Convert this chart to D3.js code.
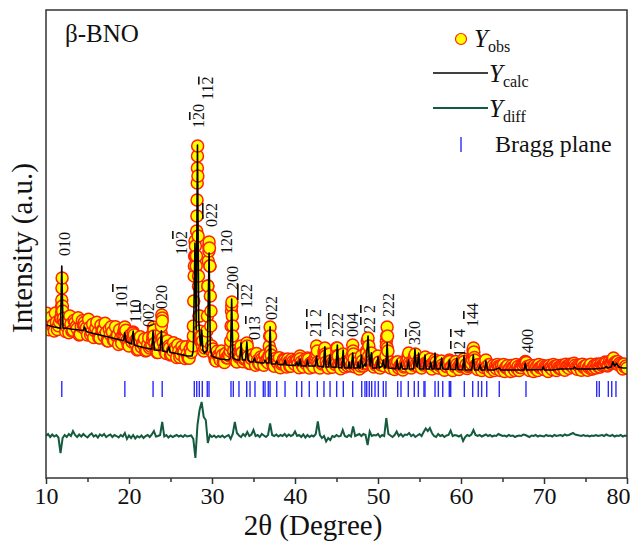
<!DOCTYPE html>
<html>
<head>
<meta charset="utf-8">
<script src="https://cdn.jsdelivr.net/npm/d3@7"></script>
<style>
  body { margin: 0; background: #fff; }
  text { font-family: "Liberation Serif", "Times New Roman", serif; fill: #111; }
</style>
</head>
<body>
<div id="chart"></div>
<script>
// observed / difference patterns are on a fixed 2theta step scan
var gridStart = 10, gridStep = 0.25;
var grid2Start = 10.125;

// Y_obs on the step grid (one row per degree)
var yObsGrid = [
  1150, 1075, 1160, 1105,  1050, 1137, 1103, 1180,  1250, 1136, 1094, 1032,
  1120, 1058, 1135, 1073,  1010, 1095, 1110, 1065,  1010, 1085, 1040, 985,
  1080, 1035, 980, 1055,   1000, 1035, 950, 1015,   1040, 955, 1000, 915,
  980, 1005, 1080, 953,    900, 963, 1040, 928,     860, 945, 890, 915,
  850, 915, 880, 915,      1060, 877, 834, 911,     1180, 876, 824, 892,
  810, 855, 880, 785,      850, 815, 850, 775,      820, 778, 836, 1000,
  1800, 2800, 1200, 950,   850, 900, 1500, 1700,    850, 805, 750, 805,
  760, 808, 735, 783,      810, 900, 1100, 790,     740, 788, 880, 743,
  780, 900, 725, 773,      780, 708, 755, 723,      770, 708, 755, 733,
  1000, 739, 698, 756,     725, 683, 731, 760,      690, 739, 698, 746,
  715, 754, 683, 741,      690, 730, 750, 680,      720, 690, 760, 740,
  680, 720, 850, 740,      680, 750, 688, 726,      880, 714, 673, 761,
  690, 710, 730, 700,      850, 690, 720, 670,      740, 700, 730, 950,
  740, 750, 690, 710,      750, 680, 720, 700,      950, 720, 680, 710,
  665, 713, 680, 710,      660, 700, 720, 730,      680, 710, 750, 700,
  730, 680, 710, 730,      720, 710, 670, 710,      740, 680, 700, 710,
  657, 696, 715, 685,      655, 695, 715, 665,      695, 725, 685, 675,
  705, 725, 800, 705,      665, 695, 655, 685,      725, 665, 645, 685,
  655, 675, 695, 655,      675, 645, 685, 665,      645, 685, 655, 675,
  655, 685, 705, 745,      695, 655, 685, 645,      675, 655, 685, 695,
  665, 685, 645, 685,      665, 695, 655, 685,      678, 698, 658, 698,
  678, 708, 688, 708,      668, 698, 658, 688,      678, 658, 698, 668,
  698, 680, 710, 690,      705, 718, 730, 710,      725, 760, 730, 740,
  710, 715, 670, 690,      680
];

// Y_obs on the interleaved half-step points (x.125, x.375, x.625, x.875)
var yObsGrid2 = [
  1228, 1063, 1188, 1113,  1229, 1065, 1141, 1300,  1177, 1045, 1153, 1201,
  1049, 1156, 1094, 1182,  1018, 1153, 1138, 1083,  1168, 1013, 1118, 1053,
  1138, 983, 1108, 1053,   1128, 953, 1068, 1093,   958, 1093, 1008, 1063,
  928, 1043, 1058, 917,    1007, 939, 1012, 964,    868, 993, 928, 973,
  858, 983, 898, 992,      928, 835, 952, 1029,     937, 835, 953, 881,
  818, 933, 868, 913,      788, 893, 838, 893,      779, 867, 920, 1700,
  1800, 1600, 1000, 950,   880, 1050, 1850, 1250,   870, 763, 848, 793,
  849, 746, 824, 781,      800, 1300, 850, 750,     829, 787, 834, 771,
  839, 796, 725, 812,      779, 826, 724, 791,      749, 806, 754, 791,
  809, 707, 776, 734,      782, 720, 768, 737,      769, 698, 767, 726,
  765, 724, 773, 711,      760, 720, 770, 730,      740, 770, 820, 720,
  750, 730, 820, 710,      760, 710, 748, 716,      805, 704, 733, 721,
  740, 700, 750, 720,      770, 710, 740, 700,      750, 720, 830, 800,
  770, 730, 740, 720,      740, 710, 750, 770,      880, 720, 740, 700,
  734, 742, 700, 730,      690, 740, 770, 710,      740, 770, 720, 750,
  710, 740, 760, 720,      750, 710, 730, 760,      700, 720, 750, 690,
  706, 735, 745, 695,      725, 745, 685, 715,      705, 745, 715, 695,
  735, 765, 785, 705,      715, 685, 725, 705,      695, 715, 685, 705,
  695, 715, 685, 705,      715, 685, 705, 675,      705, 685, 715, 695,
  685, 715, 725, 735,      685, 705, 675, 705,      695, 715, 685, 705,
  695, 675, 705, 685,      715, 685, 705, 675,      708, 688, 718, 698,
  718, 698, 728, 688,      708, 688, 718, 698,      708, 688, 718, 678,
  708, 720, 690, 722,      716, 739, 700, 742,      740, 780, 740, 745,
  728, 703, 720, 700
];

// extra Y_obs points on the steep peak flanks [2theta, intensity]
var yObsPeaks = [
  [11.8,1180],[11.88,1240],[11.9,1360],[11.92,1480],[11.94,1580],[11.98,1300],[12.05,1170],
  [14.65,1100],
  [19.4,1000],[19.45,1060],[19.5,1090],[19.55,1040],[19.6,980],
  [20.45,980],[20.5,1030],[20.55,990],
  [22.85,960],[22.9,1040],[22.95,1090],[23.0,1000],
  [23.85,1000],[23.9,1100],[23.95,1210],[24.0,1150],[24.05,980],
  [24.8,900],
  [27.7,900],[27.75,1100],[27.8,1350],[27.85,1600],[27.9,1800],[27.95,1950],[28.0,1900],
  [28.1,1700],[28.15,2050],[28.18,2200],[28.2,2360],[28.22,2530],[28.24,2680],[28.27,2900],
  [28.3,2600],[28.33,2000],[28.37,1500],[28.42,1200],[28.5,1050],[28.6,950],[28.75,1000],[28.85,900],
  [29.35,950],[29.45,1200],[29.5,1500],[29.55,1750],[29.6,1900],[29.65,1940],[29.7,1880],
  [29.75,1700],[29.8,1400],[29.85,1100],[29.95,900],
  [32.2,850],[32.25,950],[32.3,1100],[32.35,1250],[32.4,1340],[32.45,1200],[32.5,1000],[32.6,850],
  [33.45,850],[33.5,900],[34.15,880],[34.2,930],
  [36.85,800],[36.9,900],[36.95,1000],[37.0,1090],[37.05,1000],[37.1,850],
  [40.6,800],[41.5,780],
  [42.5,800],[42.6,900],[42.7,850],[43.5,820],[43.6,880],[43.7,800],
  [44.2,820],[45.0,820],[45.1,880],[45.2,800],[45.8,820],
  [46.85,800],[46.95,910],[47.05,820],
  [48.0,800],[48.6,850],[48.7,950],[48.8,980],[48.9,900],[49.2,830],[50.0,800],
  [50.95,800],[51.0,900],[51.05,1000],[51.1,1090],[51.15,1000],[51.2,850],
  [53.6,800],[53.7,830],[54.4,800],[54.5,820],[55.7,790],[56.3,770],[56.87,750],[58.6,760],
  [60.35,770],[61.35,780],[61.45,860],[61.5,880],[61.55,840],[61.65,760],[63.0,760],
  [67.7,720],[67.8,740],[78.3,760]
];

// Y_calc profile [2theta, intensity]
var yCalc = [
  [10,1110],[11,1090],[11.6,1080],[11.75,1075],[11.9,1700],[12.05,1078],[12.3,1080],[13,1070],
  [14,1060],[14.5,1058],[14.65,1090],[14.8,1052],[15,1040],[16,1020],[17,1000],[18,980],[19,960],
  [19.35,955],[19.5,1033],[19.65,945],[20.3,920],[20.5,1050],[20.65,910],[21,900],[22,880],
  [22.75,870],[22.9,1050],[23.05,860],[23.75,855],[23.9,1053],[24.05,850],[24.6,840],[24.8,893],
  [24.95,838],[26,820],[27,800],[27.6,800],[27.75,860],[27.95,1930],[28.1,1060],[28.25,2910],
  [28.4,1160],[28.55,960],[28.65,900],[28.76,1060],[28.9,860],[29.1,830],[29.45,860],[29.65,1830],
  [29.8,860],[30,800],[30.5,780],[31,770],[32,760],[32.22,780],[32.37,1370],[32.52,780],[33,760],
  [33.35,760],[33.5,930],[33.65,760],[34.05,760],[34.2,943],[34.35,760],[34.6,740],[34.95,740],
  [35.1,780],[35.25,740],[36,730],[36.25,730],[36.4,760],[36.55,730],[36.85,730],[37,1093],
  [37.15,720],[37.65,720],[37.8,750],[37.95,716],[38.65,712],[38.8,760],[38.95,710],[40.05,705],
  [40.2,740],[40.35,704],[40.45,703],[40.6,770],[40.75,701],[41.35,700],[41.5,760],[41.65,700],
  [42.45,700],[42.6,800],[42.75,700],[43.45,690],[43.6,893],[43.75,690],[44.05,690],[44.2,810],
  [44.35,690],[44.95,685],[45.1,910],[45.25,684],[45.65,682],[45.8,860],[45.95,680],[46.4,680],
  [46.5,740],[46.6,680],[46.8,680],[46.95,830],[47.1,680],[47.5,680],[47.6,740],[47.7,680],
  [47.85,680],[48,810],[48.15,680],[48.4,720],[48.55,700],[48.8,1000],[48.95,760],[49.05,700],
  [49.2,833],[49.35,680],[49.85,680],[50,793],[50.15,680],[50.5,700],[50.65,760],[50.8,680],
  [50.95,680],[51.1,933],[51.25,680],[52.15,674],[52.3,760],[52.45,670],[52.65,670],[52.8,730],
  [52.95,670],[53.5,670],[53.65,760],[53.8,670],[54.3,670],[54.45,867],[54.6,700],[54.75,690],
  [54.9,830],[55.05,670],[55.5,670],[55.66,810],[55.8,670],[56.2,670],[56.35,740],[56.5,670],
  [56.75,670],[56.87,830],[57,670],[57.5,670],[57.67,780],[57.8,670],[58.45,667],[58.6,760],
  [58.75,665],[59.35,665],[59.5,780],[59.65,665],[60.2,662],[60.36,800],[60.5,660],[61.3,660],
  [61.48,810],[61.65,660],[62.1,660],[62.3,710],[62.45,660],[62.85,660],[63,753],[63.2,660],
  [64,660],[64.6,680],[64.8,660],[67.6,660],[67.75,727],[67.9,660],[69.8,665],[69.9,693],
  [70.05,660],[71,660],[72,670],[73.5,672],[73.7,690],[73.9,670],[74.5,670],[76,670],[77.3,680],
  [77.5,693],[77.7,680],[78.1,690],[78.3,743],[78.5,700],[78.75,727],[79,690],[79.5,680],[80,680]
];

// Y_diff on the step grid (one row per degree)
var yDiff = [
  0, 20, -10, 15,     -5, 10, -15, -170,  -20, 10, -10, 20,   0, 50, 10, -10,
  15, -5, 20, 0,      -15, 10, 25, -5,    10, -15, 15, 0,     20, -10, 5, 15,
  -10, 10, 0, -15,    10, -5, 30, -30,    5, -20, 10, -25,    0, -15, 5, -20,
  0, 10, -10, 15,     50, -5, 0, 10,      140, -5, 10, -15,   5, -10, 0, 10,
  -5, 5, -10, 10,     -5, 0, 5, -30,      -220, 110, 260, 340, 190, 160, -70, 10,
  -10, 5, -15, 0,     -10, 5, -15, 0,     10, -30, 20, 140,   30, 5, -10, 20,
  0, 40, 0, 15,       60, 0, 10, -10,     20, 5, -10, 10,     125, 10, 0, 15,
  -5, 10, 0, 20,      -5, 15, 0, 10,      45, 0, 10, -10,     15, -15, 10, -10,
  5, -5, 20, 145,     10, -20, 0, -55,    -20, -40, 0, -10,   10, -5, 0, 60,
  0, -10, 10, -5,     95, 0, 10, 20,      0, 20, 10, -90,     45, 0, 10, 5,
  20, -10, 10, 0,     180, 20, 5, -10,    10, 45, 0, 20,      -5, 15, 10, 30,
  0, 15, -10, 5,      20, 0, 40, 75,      50, 80, 30, 0,      -10, 20, 0, 10,
  -10, 5, 10, 55,     0, 10, 5, -5,       10, -50, -10, 10,   0, 15, 60, 10,
  0, 10, -5, 5,       15, 0, 10, -5,      5, 0, 20, 10,       0, 5, -5, 10,
  0, 5, -10, 0,       5, 0, 15, 10,       0, -10, 5, 0,       10, -5, 5, 0,
  -5, 10, 0, 5,       -5, 10, 0, 5,       10, 0, 15, 5,       10, 20, 30, 15,
  10, 5, 0, 10,       0, 5, -5, 5,        0, 10, 0, 5,        10, 0, 15, 5,
  0, 10, -5, 5,       0, 10, -5, 5,       0
];

// Bragg reflection positions (2theta)
var braggPos = [
  11.9, 19.5, 22.9, 24.0, 27.87, 28.16, 28.47, 28.83, 29.43, 29.64,
  32.29, 32.57, 33.25, 34.18, 34.58, 35.18, 36.18, 36.39, 36.78, 36.99,
  37.8, 38.8, 40.2, 40.81, 41.72, 42.69, 43.49, 44.22, 45.02, 45.82,
  46.95, 48.04, 48.43, 48.64, 48.95, 49.24, 49.64, 50.04, 50.64, 50.96,
  52.37, 52.77, 53.65, 54.37, 54.86, 55.54, 55.66, 56.87, 57.27, 57.8,
  58.59, 58.76, 60.4, 61.41, 62.08, 62.49, 63.1, 64.61, 67.83,
  76.35, 76.66, 77.75, 78.16, 78.67
];
var braggTop = 550, braggBottom = 390;

// hkl labels: text ("-" puts a bar on the next digit), 2theta, intensity at label foot
var peakLabels = [
  ["010", 12.29, 1800], ["10-1", 19.16, 1280], ["110", 20.84, 1130], ["00-2", 22.41, 1090],
  ["020", 23.98, 1270], ["10-2", 26.39, 1810], ["1-20", 28.43, 3080], ["11-2", 29.52, 3360],
  ["0-2-2", 30.0, 2090], ["120", 31.81, 1820], ["200", 32.53, 1460], ["1-2-2", 34.22, 1280],
  ["01-3", 35.18, 960], ["022", 37.23, 1160], ["2-1 -2", 42.53, 990], ["2-2-2", 45.18, 990],
  ["004", 46.99, 990], ["2-2 -2", 49.04, 1030], ["222", 51.33, 1190], ["3-20", 54.46, 910],
  ["1-2 -4", 59.88, 790], ["1-44", 61.45, 1090], ["400", 68.07, 830]
];

var xMajor = [10, 20, 30, 40, 50, 60, 70, 80];
var xMinor = [15, 25, 35, 45, 55, 65, 75];

var margin = { top: 10, right: 3, bottom: 68, left: 46 },
  width = 630 - margin.left - margin.right,
  height = 546 - margin.top - margin.bottom;

var svg = d3.select("#chart").append("svg")
  .attr("width", 630).attr("height", 546);

var g = svg.append("g")
  .attr("transform", "translate(" + margin.left + "," + margin.top + ")");

var x = d3.scaleLinear().domain([10, 80]).range([0, width]);
var y = d3.scaleLinear().domain([-420, 4260]).range([height, 0]);

g.append("clipPath").attr("id", "plotclip")
  .append("rect").attr("width", width).attr("height", height);

var plot = g.append("g").attr("clip-path", "url(#plotclip)");

// observed points, left to right
var obs = yObsGrid.map(function (v, i) { return [gridStart + i * gridStep, v]; })
  .concat(yObsGrid2.map(function (v, i) { return [grid2Start + i * gridStep, v]; }))
  .concat(yObsPeaks)
  .sort(function (a, b) { return a[0] - b[0]; });

plot.selectAll("circle.obs")
  .data(obs)
  .enter()
  .append("circle")
  .attr("class", "obs")
  .attr("cx", function (d) { return x(d[0]); })
  .attr("cy", function (d) { return y(d[1]); })
  .attr("r", 6)
  .style("fill", "#ffff00")
  .style("stroke", "#ff2200")
  .style("stroke-width", 1.5);

// calculated profile
plot.append("path")
  .datum(yCalc)
  .attr("d", d3.line().x(function (d) { return x(d[0]); }).y(function (d) { return y(d[1]); }))
  .style("fill", "none")
  .style("stroke", "#000")
  .style("stroke-width", 1.6)
  .style("stroke-linejoin", "round");

// difference curve
plot.append("path")
  .datum(yDiff)
  .attr("d", d3.line()
    .x(function (d, i) { return x(gridStart + i * gridStep); })
    .y(function (d) { return y(d); }))
  .style("fill", "none")
  .style("stroke", "#145a3e")
  .style("stroke-width", 2);

// Bragg ticks
plot.selectAll("line.bragg")
  .data(braggPos)
  .enter()
  .append("line")
  .attr("class", "bragg")
  .attr("x1", function (d) { return x(d); })
  .attr("x2", function (d) { return x(d); })
  .attr("y1", y(braggTop))
  .attr("y2", y(braggBottom))
  .style("stroke", "#2b2bff")
  .style("stroke-width", 1.4);

// hkl labels, rotated
var labels = g.selectAll("text.hkl")
  .data(peakLabels)
  .enter()
  .append("text")
  .attr("class", "hkl")
  .attr("transform", function (d) {
    return "translate(" + (x(d[1]) + 5) + "," + y(d[2]) + ") rotate(-90)";
  })
  .style("font-size", "16px");

labels.each(function (d) {
  var t = d3.select(this), bar = false;
  d[0].split("").forEach(function (c) {
    if (c === "-") { bar = true; return; }
    var s = t.append("tspan").text(c === " " ? "\u00a0" : c);
    if (bar) s.style("text-decoration", "overline");
    bar = false;
  });
});

// frame
g.append("rect")
  .attr("width", width).attr("height", height)
  .style("fill", "none")
  .style("stroke", "#333")
  .style("stroke-width", 1.5);

// x axis
var xAxis = g.append("g")
  .attr("transform", "translate(0," + height + ")")
  .call(d3.axisBottom(x).tickValues(xMajor).tickSize(6).tickSizeOuter(0));
xAxis.select(".domain").remove();
xAxis.selectAll("line").style("stroke", "#333").style("stroke-width", 1.5);
xAxis.selectAll("text")
  .style("font-family", "Liberation Serif, serif")
  .style("font-size", "24px")
  .style("fill", "#111");
// last label sits inside the window edge
xAxis.selectAll(".tick text")
  .filter(function (d) { return d === 80; })
  .attr("text-anchor", "end")
  .attr("dx", "3px");

var xMinorAxis = g.append("g")
  .attr("transform", "translate(0," + height + ")")
  .call(d3.axisBottom(x).tickValues(xMinor).tickSize(4).tickFormat(""));
xMinorAxis.select(".domain").remove();
xMinorAxis.selectAll("line").style("stroke", "#333").style("stroke-width", 1.5);

// axis titles
svg.append("text")
  .attr("x", 313)
  .attr("y", 535)
  .attr("text-anchor", "middle")
  .style("font-size", "29px")
  .text("2\u03b8 (Degree)");

svg.append("text")
  .attr("transform", "translate(32,248) rotate(-90)")
  .attr("text-anchor", "middle")
  .style("font-size", "29px")
  .text("Intensity (a.u.)");

// sample name
svg.append("text")
  .attr("x", 65).attr("y", 42)
  .style("font-size", "25px")
  .text("\u03b2-BNO");

// legend
var leg = svg.append("g");
leg.append("circle")
  .attr("cx", 461).attr("cy", 39).attr("r", 5.5)
  .style("fill", "#ffff00").style("stroke", "#ff2200").style("stroke-width", 1.2);
leg.append("line")
  .attr("x1", 433).attr("x2", 488).attr("y1", 73).attr("y2", 73)
  .style("stroke", "#000").style("stroke-width", 1.6);
leg.append("line")
  .attr("x1", 433).attr("x2", 488).attr("y1", 108).attr("y2", 108)
  .style("stroke", "#145a3e").style("stroke-width", 2);
leg.append("line")
  .attr("x1", 461).attr("x2", 461).attr("y1", 137).attr("y2", 152)
  .style("stroke", "#2b2bff").style("stroke-width", 1.4);

var legendText = [["obs", 474, 47], ["calc", 489, 82], ["diff", 489, 117]];
legendText.forEach(function (d) {
  var t = leg.append("text").attr("x", d[1]).attr("y", d[2]).style("font-size", "25px");
  t.append("tspan").style("font-style", "italic").text("Y");
  t.append("tspan").attr("dy", 5).style("font-size", "16px").text(d[0]);
});
leg.append("text")
  .attr("x", 495).attr("y", 152)
  .style("font-size", "24px")
  .text("Bragg plane");
</script>
</body>
</html>
